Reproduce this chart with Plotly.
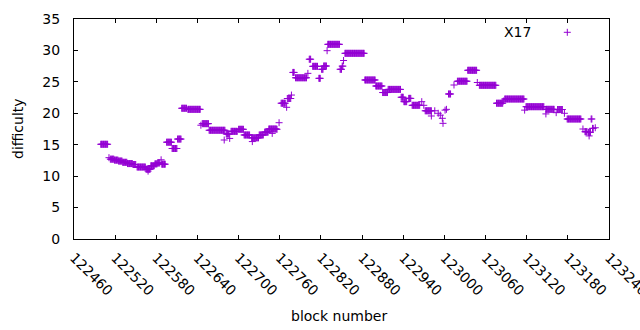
import plotly.graph_objects as go

# Runs of constant difficulty: first block, last block, difficulty
run_first = [122499, 122511, 122513, 122519, 122525, 122531, 122538, 122546, 122552, 122565,
             122568, 122572, 122578, 122582, 122587, 122588, 122595, 122603, 122611, 122617,
             122626, 122645, 122647, 122657, 122679, 122682, 122687, 122689, 122700, 122708,
             122719, 122720, 122730, 122738, 122744, 122749, 122756, 122759, 122762, 122770,
             122771, 122777, 122779, 122783, 122801, 122803, 122808, 122817, 122821, 122824,
             122829, 122830, 122848, 122851, 122853, 122855, 122884, 122900, 122910, 122918,
             122937, 122941, 122948, 122953, 122967, 122970, 122972, 122981, 122986, 122991,
             122994, 122997, 122998, 123001, 123003, 123006, 123014, 123019, 123034, 123048,
             123051, 123076, 123086, 123088, 123117, 123119, 123148, 123148, 123163, 123165,
             123175, 123179, 123202, 123205, 123210, 123211, 123214, 123216, 123220]
run_last = [122509, 122511, 122518, 122524, 122530, 122537, 122545, 122550, 122564, 122571,
            122568, 122577, 122581, 122585, 122587, 122593, 122602, 122610, 122616, 122624,
            122644, 122645, 122656, 122680, 122679, 122686, 122687, 122698, 122707, 122716,
            122729, 122720, 122736, 122743, 122755, 122749, 122756, 122759, 122768, 122770,
            122776, 122777, 122781, 122799, 122801, 122805, 122815, 122819, 122823, 122828,
            122829, 122847, 122850, 122852, 122853, 122883, 122899, 122909, 122917, 122936,
            122940, 122945, 122951, 122964, 122967, 122970, 122981, 122981, 122986, 122991,
            122994, 122997, 122998, 123001, 123003, 123009, 123014, 123033, 123047, 123048,
            123075, 123085, 123086, 123116, 123117, 123145, 123148, 123160, 123163, 123172,
            123175, 123199, 123202, 123208, 123213, 123211, 123215, 123217, 123220]
run_difficulty = [15.07, 12.94, 12.7, 12.55, 12.4, 12.2, 12.0, 11.85, 11.45, 11.1,
                  10.8, 11.65, 11.95, 12.1, 12.6, 11.9, 15.4, 14.4, 15.9, 20.8,
                  20.63, 18.1, 18.35, 17.3, 15.75, 16.7, 16.0, 17.13, 17.45, 16.55,
                  16.1, 15.5, 16.55, 17.0, 17.5, 16.8, 17.45, 18.5, 21.6, 20.95,
                  22.35, 22.9, 26.5, 25.65, 26.35, 28.6, 27.47, 25.56, 27.0, 27.52,
                  29.96, 30.97, 27.0, 27.5, 28.4, 29.54, 25.3, 24.34, 23.3, 23.8,
                  22.55, 21.85, 22.37, 21.27, 21.85, 21.27, 20.4, 19.57, 20.4, 20.0,
                  19.7, 19.2, 18.4, 20.5, 20.63, 23.07, 24.5, 25.1, 26.84, 24.9,
                  24.45, 21.6, 21.95, 22.27, 20.5, 21.05, 19.9, 20.63, 20.1, 20.6,
                  20.0, 19.09, 17.5, 17.07, 16.97, 16.4, 19.09, 17.6, 17.7]

x_tick_values = list(range(122460, 123241, 60))
x_tick_labels = [str(v) for v in x_tick_values]
y_tick_values = [0, 5, 10, 15, 20, 25, 30, 35]
series_name = "X17"

blocks, difficulty = [], []
for a, b, v in zip(run_first, run_last, run_difficulty):
    for blk in range(a, b + 1):
        blocks.append(blk)
        difficulty.append(v)

COLOR = "#9400D3"
FONT = "DejaVu Sans"

fig = go.Figure()
fig.add_trace(go.Scatter(
    x=blocks, y=difficulty, mode="markers", name=series_name, showlegend=False,
    marker=dict(symbol="cross-thin", size=5, color=COLOR,
                line=dict(color=COLOR, width=1)),
    cliponaxis=False, hoverinfo="skip",
))

L, R, T, B = 74, 31, 19, 91
W, H = 640, 330
pw, ph = W - L - R, H - T - B

# manual gnuplot-style key: text to the left of the sample
kx = (567.3 - L) / pw
ky = (H - B - 32.3) / ph
fig.add_annotation(x=(533 - L) / pw, y=ky, xref="paper", yref="paper",
                   text=series_name, showarrow=False, xanchor="right", yanchor="middle",
                   font=dict(family=FONT, size=14, color="black"))
fig.add_shape(type="line", xref="paper", yref="paper",
              x0=kx - 3.5 / pw, x1=kx + 3.5 / pw, y0=ky, y1=ky,
              line=dict(color=COLOR, width=1))
fig.add_shape(type="line", xref="paper", yref="paper",
              x0=kx, x1=kx, y0=ky - 3.5 / ph, y1=ky + 3.5 / ph,
              line=dict(color=COLOR, width=1))

fig.add_annotation(x=(339 - L) / pw, y=-(316 - (H - B)) / ph, xref="paper", yref="paper",
                   text="block number", showarrow=False, xanchor="center", yanchor="middle",
                   font=dict(family=FONT, size=14, color="black"))
fig.add_annotation(x=-(L - 18) / pw, y=0.5, xref="paper", yref="paper",
                   text="difficulty", showarrow=False, textangle=-90,
                   xanchor="center", yanchor="middle",
                   font=dict(family=FONT, size=14, color="black"))

fig.update_layout(
    width=W, height=H,
    margin=dict(l=L, r=R, t=T, b=B, autoexpand=False),
    paper_bgcolor="white", plot_bgcolor="white",
    font=dict(family=FONT, size=14, color="black"),
    hovermode=False,
    xaxis=dict(range=[122460, 123240], tickvals=x_tick_values, ticktext=x_tick_labels,
               tickangle=45, ticks="inside", ticklen=4, tickcolor="black",
               showline=True, linecolor="black", linewidth=1, mirror="ticks",
               showgrid=False, zeroline=False, ticklabelstandoff=4, automargin=False,
               ticklabeloverflow="allow"),
    yaxis=dict(range=[0, 35], tickvals=y_tick_values,
               ticks="inside", ticklen=4, tickcolor="black",
               showline=True, linecolor="black", linewidth=1, mirror="ticks",
               showgrid=False, zeroline=False, ticklabelstandoff=10, automargin=False),
)

fig.write_html("out.html", config={"displayModeBar": False},
               post_script="document.body.style.margin='0';document.body.style.overflow='hidden';")
